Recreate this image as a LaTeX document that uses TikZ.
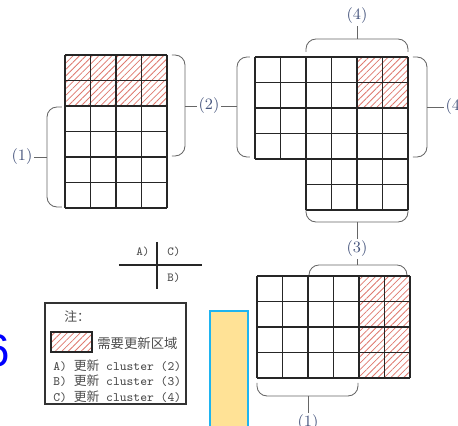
\documentclass[tikz,border=0pt]{standalone}
\usepackage{fontspec}
\newfontfamily\cjk{Noto Sans CJK SC}
\newfontfamily\numfont{Liberation Sans}
\usetikzlibrary{patterns.meta, positioning, calc}
\definecolor{lblue}{RGB}{70,85,125}
\definecolor{hatchred}{RGB}{222,120,110}
\definecolor{memofill}{RGB}{255,226,150}
\definecolor{memoedge}{RGB}{30,180,240}
\tikzset{
  gline/.style={line width=0.6pt,black!85},
  hatch/.style={pattern={Lines[angle=45,distance=2.6pt,line width=0.45pt]},pattern color=hatchred},
  brace/.style={line width=0.5pt,black!60,rounded corners=0.2cm},
  tick/.style={line width=0.5pt,black!60},
  lbl/.style={text=lblue,font=\fontsize{9}{10}\selectfont,inner sep=1pt},
  note/.style={text=black!70,font=\ttfamily\fontsize{7.3}{8}\selectfont,inner sep=0pt,anchor=west},
  key/.style={text=black!70,font=\ttfamily\fontsize{7}{8}\selectfont,inner sep=0pt},
  memo/.style={fill=memofill,draw=memoedge,line width=1.1pt}
}

\begin{document}
\begin{tikzpicture}[x=0.02cm,y=-0.02cm]
  \useasboundingbox (0,0) rectangle (458,426);
  \clip (0,0) rectangle (458,426);

  % grid 1: 4 x 6, top two rows to update
  \fill[hatch] (65,55) rectangle (167,106);
  \foreach \i in {0,...,4} \draw[gline] (65+25.5*\i,55) -- (65+25.5*\i,208);
  \foreach \j in {0,...,6} \draw[gline] (65,55+25.5*\j) -- (167,55+25.5*\j);

  % grid 2: 6 x 4 block plus 4 x 2 block below
  \fill[hatch] (357,57) rectangle (408,108);
  \foreach \i in {0,...,6} \draw[gline] (255+25.5*\i,57) -- (255+25.5*\i,159);
  \foreach \j in {0,...,4} \draw[gline] (255,57+25.5*\j) -- (408,57+25.5*\j);
  \foreach \i in {0,...,4} \draw[gline] (306+25.5*\i,159) -- (306+25.5*\i,210);
  \foreach \j in {1,2} \draw[gline] (306,159+25.5*\j) -- (408,159+25.5*\j);

  % grid 3: 6 x 4, last two columns to update
  \fill[hatch] (359,276) rectangle (410,378);
  \foreach \i in {0,...,6} \draw[gline] (257+25.5*\i,276) -- (257+25.5*\i,378);
  \foreach \j in {0,...,4} \draw[gline] (257,276+25.5*\j) -- (410,276+25.5*\j);

  % braces
  \draw[brace] (62,107) -- (47,107) -- (47,207) -- (62,207);
  \coordinate (b1l) at (47,157);
  \draw[brace] (172,55) -- (185,55) -- (185,156) -- (172,156);
  \coordinate (b1r) at (185,106);
  \draw[brace] (250,57) -- (237,57) -- (237,157) -- (250,157);
  \coordinate (b2l) at (237,106);
  \draw[brace] (306,52) -- (306,39) -- (408,39) -- (408,52);
  \coordinate (b2t) at (357,39);
  \draw[brace] (413,57) -- (427,57) -- (427,157) -- (413,157);
  \coordinate (b2r) at (427,107);
  \draw[brace] (306,210) -- (306,222) -- (408,222) -- (408,210);
  \coordinate (b2b) at (357,222);
  \draw[brace] (309,275) -- (309,265) -- (407,265) -- (407,275);
  \coordinate (b3t) at (357,265);
  \draw[brace] (257,383) -- (257,396) -- (358,396) -- (358,383);
  \coordinate (b3b) at (308,396);

  % brace labels
  \node[lbl] (l1a) at (22,157) {(1)};
  \node[lbl] (l2) at (209,106) {(2)};
  \node[lbl] (l4a) at (357,16) {(4)};
  \node[lbl] (l4b) at (456,107) {(4)};
  \node[lbl] (l3) at (357,249) {(3)};
  \node[lbl] (l1b) at (308,423) {(1)};

  \draw[tick] (b1l) -- (l1a.east);
  \draw[tick] (b1r) -- (l2.west);
  \draw[tick] (l2.east) -- (b2l);
  \draw[tick] (b2t) -- (l4a.south);
  \draw[tick] (b2r) -- (l4b.west);
  \draw[tick] (b2b) -- (l3.north);
  \draw[tick] (l3.south) -- (b3t);
  \draw[tick] (b3b) -- (l1b.north);

  % cross key
  \coordinate (xc) at (157,265);
  \draw[gline] (119,265) -- (202,265);
  \draw[gline] (157,242) -- (157,289);
  \node[key] (ka) at (143,252) {A)};
  \node[key] (kc) at (174,252) {C)};
  \node[key] (kb) at (174,278) {B)};

  % legend
  \draw[line width=0.8pt,black!80] (45,303) rectangle (186,404);
  \node[note] (nt) at (64,317) {\cjk 注：};
  \filldraw[hatch,draw=black!85,line width=0.6pt] (51,332) rectangle (92,352);
  \node[note,font=\fontsize{7.6}{8}\selectfont] (nz) at (97,343) {\cjk 需要更新区域};
  \node[note] (na) at (53,366) {A) {\cjk 更新} cluster (2)};
  \node[note] (nb) at (53,381) {B) {\cjk 更新} cluster (3)};
  \node[note] (nc) at (53,397) {C) {\cjk 更新} cluster (4)};

  % stray bits at the edges
  \node[anchor=east,text=blue,font=\numfont\fontsize{26}{26}\selectfont,inner sep=0pt] (six) at (10,351) {6};
  \draw[memo] (210,311) rectangle (248,440);
\end{tikzpicture}
\end{document}
